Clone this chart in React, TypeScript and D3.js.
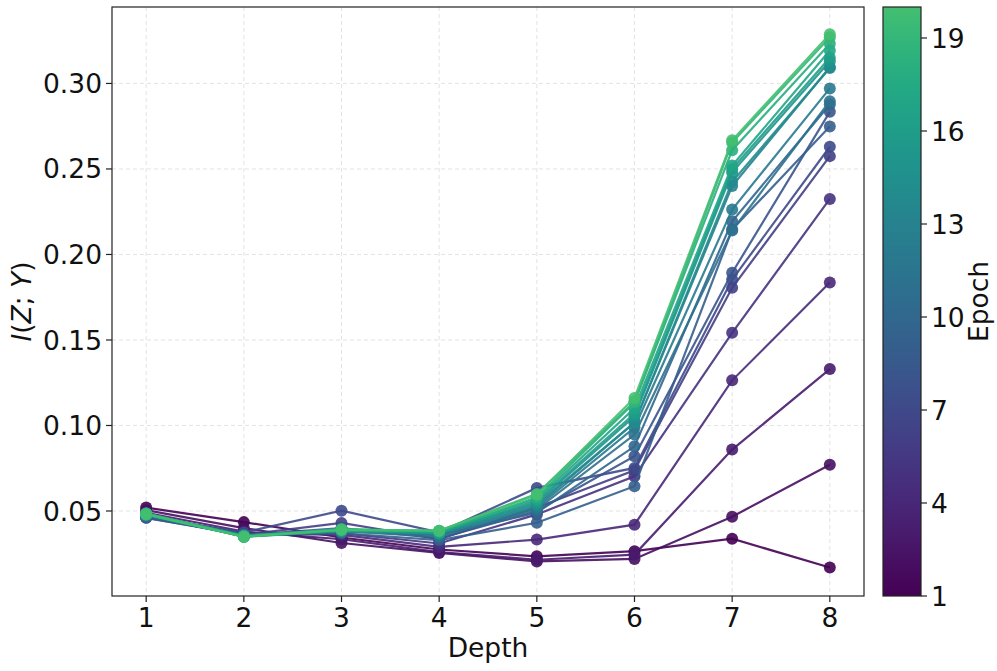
import React from "react";
import * as d3 from "d3";

const depths = [1, 2, 3, 4, 5, 6, 7, 8];
const epochs = Array.from({ length: 20 }, (_, i) => i + 1);
const yTicks = [0.05, 0.1, 0.15, 0.2, 0.25, 0.3];
const cbTicks = [1, 4, 7, 10, 13, 16, 19];

// I(Z;Y) per epoch (rows) and depth (columns)
const e1 = [0.052, 0.0435, 0.0345, 0.0275, 0.0235, 0.0265, 0.0338, 0.017];
const e2 = [0.0505, 0.04, 0.0313, 0.0255, 0.0205, 0.022, 0.0467, 0.077];
const e3 = [0.049, 0.038, 0.0335, 0.026, 0.0215, 0.0245, 0.0859, 0.133];
const e4 = [0.047, 0.037, 0.036, 0.029, 0.0333, 0.042, 0.1264, 0.1836];
const e5 = [0.046, 0.0365, 0.037, 0.031, 0.048, 0.0703, 0.1542, 0.2325];
const e6 = [0.0465, 0.036, 0.043, 0.0335, 0.052, 0.0738, 0.1805, 0.2575];
const e7 = [0.0465, 0.0375, 0.0502, 0.0375, 0.0635, 0.0752, 0.1853, 0.263];
const e8 = [0.047, 0.036, 0.04, 0.034, 0.05, 0.082, 0.1893, 0.2834];
const e9 = [0.046, 0.036, 0.037, 0.033, 0.0431, 0.0645, 0.2146, 0.2748];
const e10 = [0.047, 0.0355, 0.039, 0.036, 0.049, 0.0878, 0.2194, 0.2877];
const e11 = [0.0475, 0.036, 0.038, 0.035, 0.051, 0.0947, 0.214, 0.2896];
const e12 = [0.0475, 0.0355, 0.0385, 0.036, 0.052, 0.0988, 0.2263, 0.2971];
const e13 = [0.048, 0.0355, 0.039, 0.0365, 0.053, 0.1017, 0.24, 0.3095];
const e14 = [0.048, 0.035, 0.038, 0.037, 0.054, 0.1017, 0.2425, 0.309];
const e15 = [0.0485, 0.0355, 0.039, 0.0375, 0.055, 0.1054, 0.248, 0.313];
const e16 = [0.048, 0.035, 0.0385, 0.037, 0.056, 0.107, 0.25, 0.315];
const e17 = [0.0485, 0.0355, 0.039, 0.038, 0.057, 0.11, 0.252, 0.3193];
const e18 = [0.048, 0.035, 0.0395, 0.038, 0.058, 0.1134, 0.261, 0.3232];
const e19 = [0.0485, 0.035, 0.039, 0.0385, 0.06, 0.114, 0.2655, 0.327];
const e20 = [0.048, 0.035, 0.039, 0.0385, 0.0595, 0.1161, 0.2668, 0.3287];
const series = [e1, e2, e3, e4, e5, e6, e7, e8, e9, e10, e11, e12, e13, e14, e15, e16, e17, e18, e19, e20];

const W = 997;
const H = 671;
const L = 112, R = 864, T = 7, B = 596;
const CBL = 883, CBR = 921;
const FONT = "DejaVu Sans, sans-serif";
const FS = 26.5;

export default function App() {
  const x = d3.scaleLinear().domain([0.65, 8.35]).range([L, R]);
  const y = d3.scaleLinear().domain([0.0003, 0.3447]).range([B, T]);
  const cb = d3.scaleLinear().domain([1, 20]).range([B, T]);
  const color = (e: number) => d3.interpolateViridis(((e - 1) / 19) * 0.7);
  const line = d3
    .line<number>()
    .x((_, i) => x(depths[i]))
    .y((v) => y(v));

  const stops = d3.range(0, 1.0001, 0.05);

  return (
    <svg
      width={W}
      height={H}
      style={{ position: "absolute", left: 0, top: 0, background: "#fff" }}
      fontFamily={FONT}
    >
      <defs>
        <linearGradient id="cbg" x1="0" y1="1" x2="0" y2="0">
          {stops.map((s) => (
            <stop key={s} offset={s} stopColor={d3.interpolateViridis(s * 0.7)} />
          ))}
        </linearGradient>
        <clipPath id="plotclip">
          <rect x={L} y={T} width={R - L} height={B - T} />
        </clipPath>
      </defs>

      {/* grid */}
      <g stroke="#b0b0b0" strokeOpacity={0.45} strokeWidth={0.8} strokeDasharray="4,3">
        {depths.map((d) => (
          <line key={"gx" + d} x1={x(d)} x2={x(d)} y1={T} y2={B} />
        ))}
        {yTicks.map((t) => (
          <line key={"gy" + t} x1={L} x2={R} y1={y(t)} y2={y(t)} />
        ))}
      </g>

      {/* series */}
      <g clipPath="url(#plotclip)">
        {series.map((s, i) => (
          <g key={i}>
            <path d={line(s) || ""} fill="none" stroke={color(epochs[i])} strokeWidth={2.2} strokeOpacity={0.9} />
            {s.map((v, j) => (
              <circle key={j} cx={x(depths[j])} cy={y(v)} r={6} fill={color(epochs[i])} fillOpacity={0.9} />
            ))}
          </g>
        ))}
      </g>

      {/* axes frame */}
      <rect x={L} y={T} width={R - L} height={B - T} fill="none" stroke="#222" strokeWidth={1.2} />

      {/* x ticks */}
      {depths.map((d) => (
        <g key={"xt" + d}>
          <line x1={x(d)} x2={x(d)} y1={B} y2={B + 6} stroke="#222" strokeWidth={1.2} />
          <text x={x(d)} y={B + 31} textAnchor="middle" fontSize={FS} fill="#111">
            {d}
          </text>
        </g>
      ))}
      {/* y ticks */}
      {yTicks.map((t) => (
        <g key={"yt" + t}>
          <line x1={L - 6} x2={L} y1={y(t)} y2={y(t)} stroke="#222" strokeWidth={1.2} />
          <text x={L - 10} y={y(t)} dy="0.36em" textAnchor="end" fontSize={FS} fill="#111">
            {d3.format(".2f")(t)}
          </text>
        </g>
      ))}

      <text x={(L + R) / 2} y={657} textAnchor="middle" fontSize={FS} fill="#111">
        Depth
      </text>
      <text transform={`translate(31,${(T + B) / 2}) rotate(-90)`} textAnchor="middle" fontSize={FS} fill="#111">
        <tspan fontStyle="italic">I</tspan>
        <tspan>(</tspan>
        <tspan fontStyle="italic">Z</tspan>
        <tspan>; </tspan>
        <tspan fontStyle="italic">Y</tspan>
        <tspan>)</tspan>
      </text>

      {/* colorbar */}
      <rect x={CBL} y={T} width={CBR - CBL} height={B - T} fill="url(#cbg)" stroke="#222" strokeWidth={1.2} />
      {cbTicks.map((t) => (
        <g key={"cb" + t}>
          <line x1={CBR} x2={CBR + 6} y1={cb(t)} y2={cb(t)} stroke="#222" strokeWidth={1.2} />
          <text x={CBR + 10} y={cb(t)} dy="0.36em" fontSize={FS} fill="#111">
            {t}
          </text>
        </g>
      ))}
      <text transform={`translate(988,${(T + B) / 2}) rotate(-90)`} textAnchor="middle" fontSize={FS} fill="#111">
        Epoch
      </text>
    </svg>
  );
}
